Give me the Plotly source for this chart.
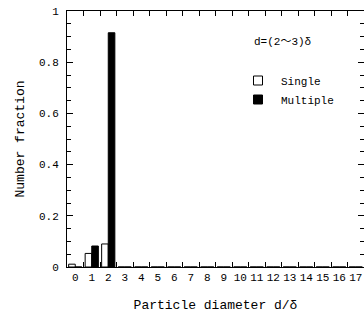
import plotly.graph_objects as go

# Data
categories = [str(i) for i in range(18)]
single = [0.011, 0.053, 0.090] + [0.0] * 15
multiple = [0.0, 0.082, 0.915] + [0.0] * 15
ytick_vals = [0, 0.2, 0.4, 0.6, 0.8, 1.0]

MONO = "Liberation Mono, DejaVu Sans Mono, Noto Sans CJK JP, monospace"

fig = go.Figure()
fig.add_trace(go.Bar(x=categories, y=single, name="Single",
                     marker=dict(color="white", line=dict(color="black", width=1)),
                     showlegend=False))
fig.add_trace(go.Bar(x=categories, y=multiple, name="Multiple",
                     marker=dict(color="black", line=dict(color="black", width=1)),
                     showlegend=False))
# legend entries
fig.add_trace(go.Scatter(x=[None], y=[None], mode="markers", name="Single",
                         marker=dict(symbol="square", size=9, color="white",
                                     line=dict(color="black", width=1))))
fig.add_trace(go.Scatter(x=[None], y=[None], mode="markers", name="Multiple",
                         marker=dict(symbol="square", size=9, color="black",
                                     line=dict(color="black", width=1))))

pw, ph = 364 - 67, 320 - 11 - 53

fig.update_layout(
    width=364, height=320,
    margin=dict(l=67, r=0, t=11, b=53),
    paper_bgcolor="white", plot_bgcolor="white",
    barmode="group", bargap=0.2, bargroupgap=0,
    font=dict(family=MONO, size=11, color="black"),
    showlegend=True,
    legend=dict(x=(235 - 67) / pw, y=(267 - 66) / ph, xanchor="left", yanchor="top",
                bgcolor="rgba(0,0,0,0)", font=dict(size=11, family=MONO),
                tracegroupgap=0, itemsizing="trace", itemwidth=36),
    annotations=[dict(text="d=(2〜3)δ", x=(252 - 67) / pw, y=(267 - 42) / ph,
                      xref="paper", yref="paper", xanchor="left", yanchor="middle",
                      showarrow=False, font=dict(size=11, family=MONO))],
)

fig.update_xaxes(
    type="category", range=[-0.5, 17.5],
    showline=True, linecolor="black", linewidth=1, mirror="allticks",
    ticks="inside", ticklen=5, tickcolor="black", tickson="boundaries",
    tickangle=0,
    showgrid=False, zeroline=False,
    tickfont=dict(size=11, family=MONO),
    title=dict(text="Particle diameter d/δ", font=dict(size=13, family=MONO), standoff=16),
)
fig.update_yaxes(
    range=[ytick_vals[0], ytick_vals[-1]],
    tickmode="linear", tick0=ytick_vals[0], dtick=ytick_vals[1] - ytick_vals[0],
    showline=True, linecolor="black", linewidth=1, mirror="allticks",
    ticks="inside", ticklen=6, tickcolor="black", tickwidth=1,
    ticklabelstandoff=5,
    minor=dict(tickmode="linear", tick0=0, dtick=0.05, ticks="inside", ticklen=4,
               tickwidth=1, tickcolor="black", showgrid=False),
    showgrid=False, zeroline=False,
    tickfont=dict(size=11, family=MONO),
    title=dict(text="Number fraction", font=dict(size=13, family=MONO), standoff=11),
)

fig.write_html("out.html")
